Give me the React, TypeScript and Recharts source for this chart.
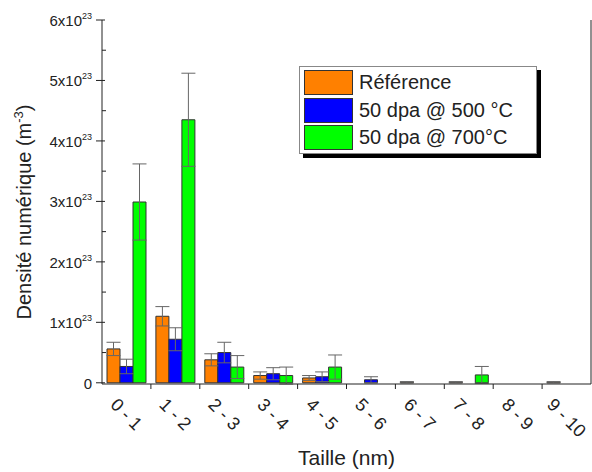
import { BarChart, Bar, XAxis, YAxis, ErrorBar, Legend, Label } from 'recharts'

const categories = ['0 - 1', '1 - 2', '2 - 3', '3 - 4', '4 - 5', '5 - 6', '6 - 7', '7 - 8', '8 - 9', '9 - 10']
// densities in units of 1e23 m^-3
const reference = [0.56, 1.1, 0.38, 0.12, 0.08, 0, 0.01, 0.01, 0, 0.01]
const referenceErr = [0.11, 0.16, 0.1, 0.06, 0.04, null, 0.01, 0.01, null, 0.01]
const dpa500 = [0.27, 0.72, 0.5, 0.15, 0.1, 0.05, 0, 0, 0, 0]
const dpa500Err = [0.12, 0.19, 0.17, 0.1, 0.08, 0.05, null, null, null, null]
const dpa700 = [2.99, 4.35, 0.26, 0.12, 0.26, 0, 0, 0.13, 0, 0]
const dpa700Err = [0.63, 0.77, 0.19, 0.14, 0.2, null, null, 0.14, null, null]
const yTicks = [0, 0.5, 1, 1.5, 2, 2.5, 3, 3.5, 4, 4.5, 5, 5.5, 6]

// note: "ref" can't be a data key, recharts spreads entries onto svg nodes
const series = [
  { key: 'base', err: 'baseErr', name: 'Référence', color: '#ff8000' },
  { key: 'd500', err: 'd500Err', name: '50 dpa @ 500 °C', color: '#0000ff' },
  { key: 'd700', err: 'd700Err', name: '50 dpa @ 700°C', color: '#00ff00' },
]

const data = categories.map((c, i) => ({
  cat: c,
  base: reference[i],
  baseErr: referenceErr[i],
  d500: dpa500[i],
  d500Err: dpa500Err[i],
  d700: dpa700[i],
  d700Err: dpa700Err[i],
}))

const W = 592
const H = 472
const LEFT = 102
const RIGHT = 1
const BAND = (W - LEFT - RIGHT) / categories.length
const FONT = '"Liberation Sans", Arial, sans-serif'
const INK = '#222'

function BottomTick(props: any) {
  const { x, y, payload, index } = props
  const label: string = payload.value
  const w = label.split('').reduce((s, ch) => s + (ch === ' ' ? 0.278 : ch === '-' ? 0.333 : 0.556), 0) * 18
  const cy = y + 13 + ((w + 13) * 0.707) / 2
  return (
    <g>
      {index < categories.length - 1 && (
        <line x1={x + BAND / 2} x2={x + BAND / 2} y1={y} y2={y + 5} stroke={INK} />
      )}
      <text
        x={x}
        y={cy}
        textAnchor="middle"
        dominantBaseline="central"
        transform={`rotate(45 ${x} ${cy})`}
        fontSize={18}
        fontFamily={FONT}
        fill={INK}
      >
        {label}
      </text>
    </g>
  )
}

function TopTick(props: any) {
  const { x, y, index } = props
  if (index >= categories.length - 1) return <g />
  return <line x1={x + BAND / 2} x2={x + BAND / 2} y1={y} y2={y + 5} stroke={INK} />
}

function LeftTick(props: any) {
  const { x, y, payload } = props
  const v: number = payload.value
  if (!Number.isInteger(v)) {
    return <line x1={x} x2={x + 4} y1={y} y2={y} stroke={INK} />
  }
  return (
    <g>
      <line x1={x - 6} x2={x + 3} y1={y} y2={y} stroke={INK} />
      <text x={x - 10} y={y + 6} textAnchor="end" fontSize={15} fontFamily={FONT} fill={INK}>
        {v === 0 ? (
          '0'
        ) : (
          <>
            {`${v}x10`}
            <tspan dy={-7} fontSize={9}>
              23
            </tspan>
          </>
        )}
      </text>
    </g>
  )
}

function RightTick(props: any) {
  const { x, y, payload } = props
  const len = Number.isInteger(payload.value) ? 6 : 4
  return <line x1={x - len} x2={x} y1={y} y2={y} stroke={INK} />
}

function XTitle() {
  return (
    <text x={LEFT + (W - LEFT - RIGHT) / 2} y={465} textAnchor="middle" fontSize={21} fontFamily={FONT} fill={INK}>
      Taille (nm)
    </text>
  )
}

function YTitle() {
  return (
    <text
      x={0}
      y={0}
      transform="translate(31 212) rotate(-90)"
      textAnchor="middle"
      fontSize={20}
      fontFamily={FONT}
      fill={INK}
    >
      Densité numérique (m
      <tspan dy={-8} fontSize={13}>
        -3
      </tspan>
      <tspan dy={8}>)</tspan>
    </text>
  )
}

function LegendBox() {
  return (
    <div
      style={{
        border: '1px solid #888',
        background: '#fff',
        boxShadow: '4px 4px 0 #000',
        padding: '2px 8px 1px 4px',
        fontFamily: FONT,
        fontSize: 20,
        color: INK,
        width: 224,
      }}
    >
      {series.map((s) => (
        <div key={s.key} style={{ display: 'flex', alignItems: 'center', height: 27.5 }}>
          <span
            style={{
              display: 'inline-block',
              width: 47,
              height: 23,
              background: s.color,
              border: '1px solid #333',
              marginRight: 6,
            }}
          />
          <span style={{ whiteSpace: 'nowrap' }}>{s.name}</span>
        </div>
      ))}
    </div>
  )
}

export default function App() {
  return (
    <div style={{ position: 'absolute', left: 0, top: 0, width: W, height: H, background: '#fff' }}>
      <BarChart
        width={W}
        height={H}
        data={data}
        margin={{ top: 20, right: 0, bottom: 0, left: 0 }}
        barSize={13}
        barGap={0}
      >
        <XAxis
          dataKey="cat"
          height={88}
          interval={0}
          tickSize={0}
          tickMargin={0}
          tickLine={false}
          tick={<BottomTick />}
          axisLine={{ stroke: INK }}
        >
          <Label content={<XTitle />} />
        </XAxis>
        <XAxis
          xAxisId="top"
          dataKey="cat"
          orientation="top"
          height={0}
          interval={0}
          tickSize={0}
          tickMargin={0}
          tickLine={false}
          tick={<TopTick />}
          axisLine={{ stroke: INK }}
        />
        <YAxis
          width={LEFT}
          domain={[0, 6]}
          ticks={yTicks}
          interval={0}
          tickSize={0}
          tickMargin={0}
          tickLine={false}
          tick={<LeftTick />}
          axisLine={{ stroke: INK }}
        >
          <Label content={<YTitle />} />
        </YAxis>
        <YAxis
          yAxisId="right"
          orientation="right"
          width={RIGHT}
          domain={[0, 6]}
          ticks={yTicks}
          interval={0}
          tickSize={0}
          tickMargin={0}
          tickLine={false}
          tick={<RightTick />}
          axisLine={{ stroke: INK }}
        />
        <Legend
          layout="vertical"
          align="center"
          verticalAlign="middle"
          content={<LegendBox />}
          wrapperStyle={{ left: 299, top: 66, width: 'auto', height: 'auto' }}
        />
        {series.map((s) => (
          <Bar
            key={s.key}
            dataKey={s.key}
            name={s.name}
            fill={s.color}
            stroke="#333"
            strokeWidth={1}
            isAnimationActive={false}
          >
            <ErrorBar dataKey={s.err} width={7} stroke="#666" strokeWidth={1} />
          </Bar>
        ))}
      </BarChart>
    </div>
  )
}
